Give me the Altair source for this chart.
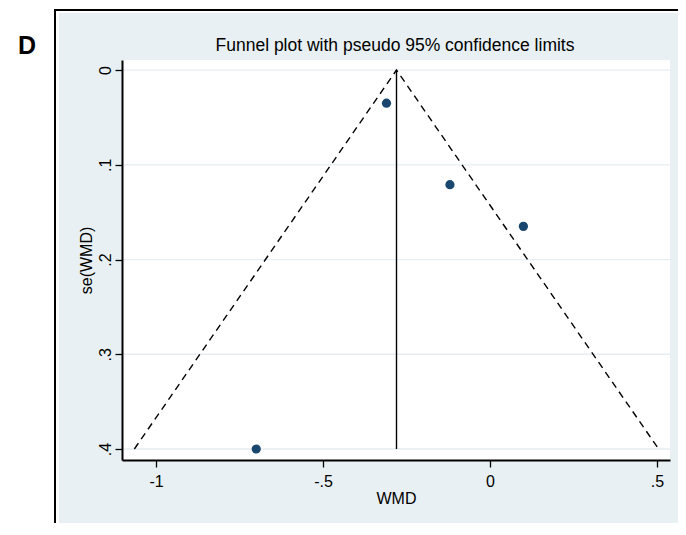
import altair as alt
import pandas as pd

# ---- data ----
effects = [-0.31, -0.12, 0.10, -0.70]      # WMD of each study
ses = [0.035, 0.121, 0.165, 0.40]           # se(WMD)
pooled = -0.28                              # pooled estimate (vertical line)
se_max = 0.40
funnel_x = [-1.065, -0.28, 0.505]           # pseudo 95% limits
funnel_y = [0.40, 0.0, 0.40]

x_ticks = [-1, -0.5, 0, 0.5]
x_labels = ["-1", "-.5", "0", ".5"]
y_ticks = [0, 0.1, 0.2, 0.3, 0.4]
y_labels = ["0", ".1", ".2", ".3", ".4"]

title_text = "Funnel plot with pseudo 95% confidence limits"
panel_letter = "D"

W, H = 548, 400
FONT = "Liberation Sans"
BLUE_BG = "#e8f0f3"
GRID = "#e6eef1"
NAVY = "#1a476f"


def label_expr(vals, labs):
    expr = "''"
    for v, l in reversed(list(zip(vals, labs))):
        expr = f"abs(datum.value - ({v})) < 1e-6 ? '{l}' : ({expr})"
    return expr


pts = pd.DataFrame({"WMD": effects, "se": ses})
funnel = pd.DataFrame({"WMD": funnel_x, "se": funnel_y, "order": [0, 1, 2]})
vline = pd.DataFrame({"WMD": [pooled], "se0": [0.0], "se1": [se_max]})
grid = pd.DataFrame({"se": y_ticks})

xscale = alt.Scale(domain=[-1.102, 0.539], nice=False, zero=False)
yscale = alt.Scale(domain=[-0.0106, 0.4116], nice=False, zero=False, reverse=True)

xaxis = alt.Axis(
    values=x_ticks, labelExpr=label_expr(x_ticks, x_labels), title="WMD",
    grid=False, domainColor="black", domainWidth=2, tickColor="black",
    tickWidth=1.3, tickSize=7, labelFont=FONT, labelFontSize=16,
    labelColor="black", titleFont=FONT, titleFontSize=16,
    titleFontWeight="normal", titleColor="black", labelPadding=6,
    titlePadding=1, labelFlush=False, zindex=2,
)
yaxis = alt.Axis(
    values=y_ticks, labelExpr=label_expr(y_ticks, y_labels), title="se(WMD)",
    grid=False, domainColor="black", domainWidth=2, tickColor="black",
    tickWidth=1.3, tickSize=7, labelFont=FONT, labelFontSize=16,
    labelColor="black", labelAngle=270, labelAlign="center",
    labelBaseline="bottom", labelPadding=2, titleFont=FONT, titleFontSize=16,
    titleFontWeight="normal", titleColor="black", titlePadding=3,
    labelFlush=False, zindex=2,
)

one = alt.Data(values=[{}])

bg = alt.Chart(one).mark_rect(color=BLUE_BG).encode(
    x=alt.value(-63), x2=alt.value(620), y=alt.value(-47), y2=alt.value(463)
)
frame_left = alt.Chart(one).mark_rule(color="black", strokeWidth=2).encode(
    x=alt.value(-67), y=alt.value(-51), y2=alt.value(520)
)
frame_top = alt.Chart(one).mark_rule(color="black", strokeWidth=2).encode(
    x=alt.value(-68), x2=alt.value(620), y=alt.value(-50)
)
plot_bg = alt.Chart(one).mark_rect(color="white").encode(
    x=alt.value(0), x2=alt.value(W), y=alt.value(0), y2=alt.value(H)
)
letter = alt.Chart(one).mark_text(
    text=panel_letter, font=FONT, fontSize=25, fontWeight="bold",
    color="black", align="center", baseline="middle"
).encode(x=alt.value(-95), y=alt.value(-14))
title_mark = alt.Chart(one).mark_text(
    text=title_text, font=FONT, fontSize=17.5, color="black",
    align="center", baseline="alphabetic"
).encode(x=alt.value(W / 2 - 1), y=alt.value(-9))

grid_rules = alt.Chart(grid).mark_rule(color=GRID, strokeWidth=1.3).encode(
    y=alt.Y("se:Q", scale=yscale, axis=yaxis),
    x=alt.value(0), x2=alt.value(W),
)

funnel_line = alt.Chart(funnel).mark_line(
    color="black", strokeWidth=1.4, strokeDash=[7, 5]
).encode(
    x=alt.X("WMD:Q", scale=xscale, axis=xaxis),
    y=alt.Y("se:Q", scale=yscale, axis=yaxis),
    order="order:Q",
)

pooled_rule = alt.Chart(vline).mark_rule(color="black", strokeWidth=1.4).encode(
    x=alt.X("WMD:Q", scale=xscale, axis=xaxis),
    y=alt.Y("se0:Q", scale=yscale, axis=yaxis),
    y2="se1:Q",
)

points = alt.Chart(pts).mark_point(
    filled=True, color=NAVY, size=85, opacity=1, shape="circle"
).encode(
    x=alt.X("WMD:Q", scale=xscale, axis=xaxis),
    y=alt.Y("se:Q", scale=yscale, axis=yaxis),
)

chart = alt.layer(
    bg, frame_left, frame_top, plot_bg, letter, title_mark, grid_rules,
    funnel_line, pooled_rule, points,
).properties(
    width=W, height=H,
    padding={"left": 114, "top": 52, "right": 8, "bottom": 63},
    autosize=alt.AutoSizeParams(type="none"),
).configure(background="white").configure_view(stroke=None)

chart.save("out.html", embed_options={"renderer": "svg", "actions": False})
